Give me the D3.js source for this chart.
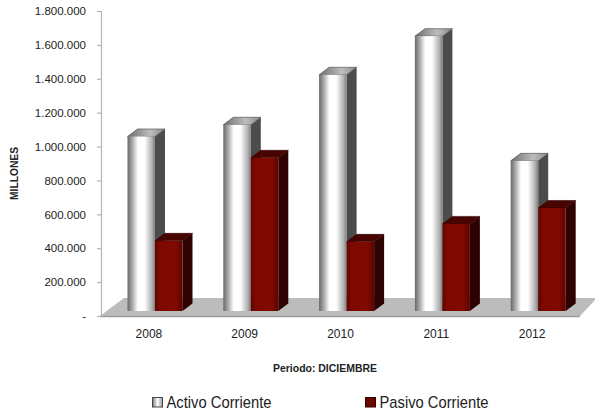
<!DOCTYPE html>
<html>
<head>
<meta charset="utf-8">
<script src="https://cdn.jsdelivr.net/npm/d3@7/dist/d3.min.js"></script>
<style>
html,body{margin:0;padding:0;background:#fff;}
svg{display:block;}
text{font-family:"Liberation Sans",Arial,sans-serif;fill:#222;}
</style>
</head>
<body>
<svg id="chart" width="595" height="414"></svg>
<script>
// Current assets and liabilities per year, in millions
const years = ["2008", "2009", "2010", "2011", "2012"];
const activo = [1030000, 1099000, 1394000, 1622000, 886000];
const pasivo = [414000, 904000, 408000, 514000, 608000];
const tickValues = [0, 200000, 400000, 600000, 800000, 1000000, 1200000, 1400000, 1600000, 1800000];
const seriesNames = ["Activo Corriente", "Pasivo Corriente"];

const width = 595, height = 414;
const plot = {left: 101, right: 580, top: 11, bottom: 316};
const depth = {x: 10, y: 7.5};    // oblique extrusion of each bar
const floorDepth = {x: 24, y: 18};
const wallLift = 5;               // bars stand this far behind the front edge of the floor
const barWidth = 27.5, barStart = 26.5;

const svg = d3.select("#chart");
const x = d3.scaleBand().domain(years).range([plot.left, plot.right]);
const y = d3.scaleLinear().domain([0, 1800000]).range([plot.bottom, plot.top]);

const defs = svg.append("defs");
function hGradient(id, stops) {
  const g = defs.append("linearGradient").attr("id", id);
  stops.forEach(s => g.append("stop").attr("offset", s[0]).attr("stop-color", s[1]));
}
hGradient("frontActivo", [[0, "#686868"], [0.14, "#9c9c9c"], [0.38, "#ffffff"], [0.62, "#ffffff"], [0.88, "#b4b4b4"], [1, "#808080"]]);
hGradient("frontPasivo", [[0, "#5f0600"], [0.18, "#7e0900"], [0.75, "#800a00"], [1, "#5a0500"]]);
hGradient("topActivo", [[0, "#6d6d6d"], [0.6, "#bdbdbd"], [1, "#8a8a8a"]]);
hGradient("legendActivo", [[0, "#777"], [0.5, "#fff"], [1, "#999"]]);

// Floor of the 3D plot
const floorPts = [
  [plot.left - 1, plot.bottom],
  [plot.left - 1 + floorDepth.x, plot.bottom - floorDepth.y],
  [plot.right + 17, plot.bottom - floorDepth.y],
  [plot.right, plot.bottom]
];
svg.append("polygon").attr("points", floorPts.join(" ")).attr("fill", "#bcbcbc");
svg.append("line").attr("x1", plot.left - 1).attr("x2", plot.right)
  .attr("y1", plot.bottom + 0.5).attr("y2", plot.bottom + 0.5)
  .attr("stroke", "#9c9c9c").attr("stroke-width", 1.5);

// Value axis
const fmt = d3.formatLocale({decimal: ",", thousands: ".", grouping: [3], currency: ["", ""]}).format(",d");
const axis = d3.axisLeft(y).tickValues(tickValues).tickSize(4).tickPadding(11)
  .tickFormat(d => d === 0 ? "-" : fmt(d));
const axisG = svg.append("g").attr("transform", `translate(${plot.left},0)`).call(axis);
axisG.selectAll("path,line").attr("stroke", "#b4b4b4").attr("stroke-width", 1.2);
axisG.selectAll("text").attr("font-size", 11.5).attr("fill", "#222");

// Extruded bars
function drawBar(x0, value, front, side, top, edge) {
  const yTop = y(value) - wallLift, yBase = y(0) - wallLift, w = barWidth;
  svg.append("polygon")
    .attr("points", [[x0 + w, yTop], [x0 + w + depth.x, yTop - depth.y], [x0 + w + depth.x, yBase - depth.y], [x0 + w, yBase]].join(" "))
    .attr("fill", side);
  svg.append("polygon")
    .attr("points", [[x0, yTop], [x0 + depth.x, yTop - depth.y], [x0 + w + depth.x, yTop - depth.y], [x0 + w, yTop]].join(" "))
    .attr("fill", top).attr("stroke", edge).attr("stroke-width", 0.6);
  svg.append("rect").attr("x", x0).attr("y", yTop).attr("width", w).attr("height", yBase - yTop).attr("fill", front);
}
years.forEach((yr, i) => {
  const x0 = x(yr) + barStart;
  drawBar(x0, activo[i], "url(#frontActivo)", "#4c4c4c", "url(#topActivo)", "#444");
  drawBar(x0 + barWidth, pasivo[i], "url(#frontPasivo)", "#2e0200", "#470400", "#2e0200");
});

// Category labels
svg.append("g").selectAll("text").data(years).join("text")
  .attr("x", d => x(d) + x.bandwidth() / 2).attr("y", 338)
  .attr("text-anchor", "middle").attr("font-size", 12).text(d => d);

// Axis titles
svg.append("text").attr("transform", "translate(18,173.5) rotate(-90)")
  .attr("text-anchor", "middle").attr("font-size", 11.5).attr("font-weight", "bold")
  .attr("textLength", 53).attr("lengthAdjust", "spacingAndGlyphs").text("MILLONES");
svg.append("text").attr("x", 325).attr("y", 371.5)
  .attr("text-anchor", "middle").attr("font-size", 10.5).attr("font-weight", "bold")
  .attr("textLength", 104).attr("lengthAdjust", "spacingAndGlyphs").text("Periodo: DICIEMBRE");

// Legend
const legendX = [152.5, 365.5], legendW = [105, 109], legendFill = ["url(#legendActivo)", "#6d0800"], legendStroke = ["#444", "#300"];
seriesNames.forEach((name, i) => {
  svg.append("rect").attr("x", legendX[i]).attr("y", 397.5).attr("width", 10).attr("height", 9.5)
    .attr("fill", legendFill[i]).attr("stroke", legendStroke[i]);
  svg.append("text").attr("x", legendX[i] + 14).attr("y", 408).attr("font-size", 17)
    .attr("textLength", legendW[i]).attr("lengthAdjust", "spacingAndGlyphs").text(name);
});
</script>
</body>
</html>
